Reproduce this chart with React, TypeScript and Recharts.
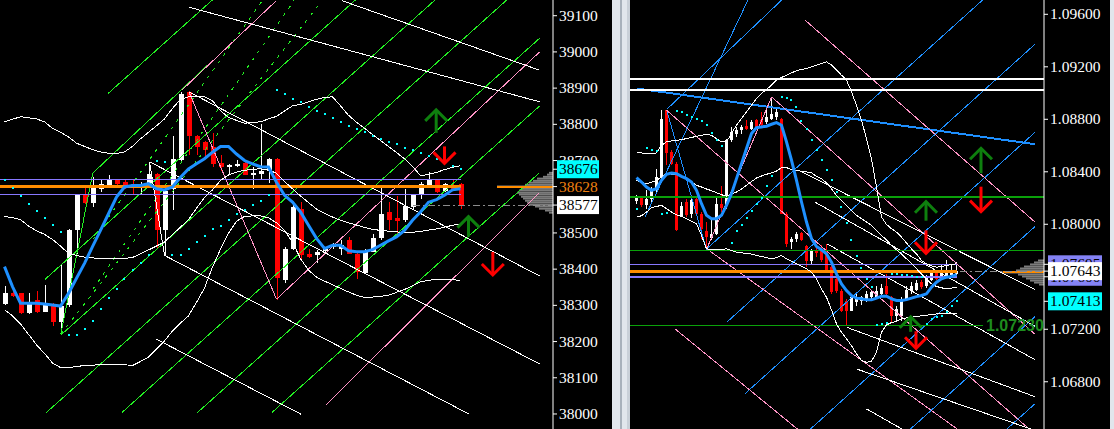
import React from 'react';
import { ComposedChart, XAxis, YAxis, Bar, Line, ReferenceLine, ReferenceArea, ReferenceDot } from 'recharts';

// ================= LEFT PANEL (index, points) =================
const leftOpen = [38304, 38335, 38333, 38278, 38315, 38283, 38301, 38255, 38301, 38507, 38604, 38583, 38622, 38631, 38647, 38640, 38636, 38625, 38636, 38663, 38507, 38622, 38702, 38888, 38769, 38750, 38737, 38694, 38683, 38686, 38693, 38661, 38663, 38671, 38705, 38370, 38457, 38567, 38443, 38439, 38451, 38462, 38457, 38480, 38443, 38388, 38448, 38485, 38558, 38540, 38535, 38572, 38604, 38631, 38645, 38617, 38631, 38634];
const leftHigh = [38353, 38342, 38335, 38333, 38341, 38356, 38306, 38411, 38510, 38606, 38631, 38654, 38645, 38659, 38650, 38650, 38645, 38640, 38695, 38665, 38631, 38769, 38888, 38891, 38771, 38755, 38775, 38714, 38691, 38702, 38700, 38682, 38801, 38707, 38707, 38462, 38576, 38585, 38457, 38453, 38462, 38471, 38480, 38489, 38448, 38457, 38498, 38631, 38585, 38601, 38622, 38608, 38640, 38668, 38647, 38638, 38650, 38638];
const leftLow = [38300, 38322, 38276, 38276, 38278, 38281, 38242, 38219, 38295, 38443, 38581, 38572, 38613, 38629, 38631, 38622, 38608, 38608, 38634, 38457, 38439, 38562, 38700, 38714, 38714, 38709, 38682, 38671, 38663, 38682, 38659, 38622, 38645, 38638, 38315, 38363, 38453, 38425, 38430, 38416, 38443, 38457, 38439, 38441, 38372, 38386, 38446, 38480, 38507, 38494, 38530, 38562, 38595, 38629, 38610, 38613, 38617, 38567];
const leftClose = [38335, 38326, 38278, 38310, 38283, 38306, 38255, 38297, 38507, 38604, 38583, 38627, 38634, 38650, 38636, 38631, 38631, 38629, 38663, 38509, 38617, 38705, 38885, 38769, 38737, 38729, 38691, 38682, 38689, 38691, 38661, 38665, 38671, 38705, 38375, 38457, 38572, 38439, 38434, 38448, 38457, 38466, 38466, 38443, 38393, 38448, 38487, 38553, 38535, 38533, 38574, 38604, 38636, 38645, 38613, 38636, 38622, 38577];
const leftMA = [38407, 38352, 38306, 38306, 38306, 38304, 38301, 38298, 38333, 38375, 38416, 38462, 38507, 38553, 38599, 38627, 38631, 38631, 38636, 38622, 38619, 38627, 38654, 38677, 38691, 38705, 38723, 38739, 38739, 38718, 38700, 38691, 38683, 38682, 38640, 38604, 38585, 38558, 38521, 38485, 38457, 38466, 38466, 38451, 38448, 38448, 38454, 38466, 38478, 38489, 38507, 38535, 38558, 38585, 38592, 38604, 38619, 38622];
const leftBandUp = [38807, 38814, 38821, 38818, 38815, 38807, 38789, 38778, 38765, 38748, 38739, 38730, 38724, 38720, 38719, 38724, 38739, 38760, 38778, 38796, 38815, 38844, 38869, 38876, 38876, 38876, 38865, 38838, 38819, 38811, 38803, 38805, 38807, 38815, 38822, 38837, 38851, 38855, 38862, 38869, 38874, 38876, 38851, 38825, 38806, 38789, 38772, 38755, 38739, 38722, 38705, 38684, 38658, 38662, 38667, 38675, 38681, 38686];
const leftBandMid = [38546, 38542, 38537, 38519, 38506, 38496, 38482, 38464, 38443, 38438, 38433, 38431, 38430, 38430, 38429, 38430, 38432, 38443, 38453, 38464, 38475, 38496, 38516, 38537, 38568, 38598, 38619, 38645, 38660, 38668, 38673, 38676, 38677, 38674, 38665, 38642, 38622, 38602, 38584, 38566, 38554, 38544, 38535, 38528, 38522, 38515, 38510, 38507, 38505, 38503, 38501, 38502, 38504, 38508, 38511, 38516, 38521, 38525];
const leftBandLow = [38288, 38271, 38249, 38220, 38191, 38167, 38141, 38128, 38128, 38131, 38134, 38135, 38136, 38137, 38138, 38136, 38134, 38145, 38157, 38179, 38202, 38229, 38251, 38271, 38308, 38348, 38406, 38455, 38499, 38532, 38546, 38547, 38547, 38542, 38528, 38507, 38475, 38429, 38397, 38378, 38367, 38357, 38347, 38337, 38328, 38322, 38323, 38325, 38328, 38336, 38344, 38354, 38365, 38369, 38372, 38372, 38371, 38369];
const leftSAR = [38645, 38624, 38601, 38580, 38560, 38542, 38523, 38502, 38218, 38218, 38234, 38257, 38290, 38320, 38346, 38372, 38398, 38418, 38438, 38700, 38696, 38438, 38440, 38456, 38476, 38492, 38510, 38520, 38537, 38551, 38564, 38577, 38589, 38606, 38896, 38884, 38870, 38862, 38849, 38838, 38828, 38817, 38806, 38796, 38787, 38780, 38768, 38760, 38752, 38745, 38734, 38728, 38720, 38713, 38704, 38695, 38686, 38676];
const leftTickValues = [38000, 38100, 38200, 38300, 38400, 38500, 38700, 38800, 38900, 39000, 39100];
const leftMarkValues = [38676, 38628, 38577];
const leftPurpleLevels = [38647, 38606];
const leftOrangeLevel = 38628;
const leftLastPrice = 38577;
// trend objects: [bar index 1, price 1, bar index 2, price 2]
const leftGreenRays = [
  [6.21, 38003.5, 67.88, 39224.5],
  [15.65, 38003.5, 67.88, 39037.5],
  [25.1, 38003.5, 67.88, 38850.5],
  [34.4, 38003.5, 67.88, 38666.25],
  [8.05, 38218, 67.88, 39401.9],
  [6.08, 38372, 67.88, 39601.25],
  [13.96, 38885.4, 29.13, 39186],
  [12.04, 38665.4, 27.04, 38977],
  [8.05, 38220.75, 12.04, 38665.4],
];
const leftGreenDashed = [
  [8.05, 38220.75, 40.71, 39142],
  [12.04, 38344.5, 37.2, 39142],
  [12.04, 38482, 33.25, 39142],
];
const leftPinkRays = [
  [23.18, 38894.5, 35.0, 39142],
  [24.05, 38889.8, 35.0, 38317],
  [35.0, 38317, 67.88, 38999.8],
  [41.13, 38023.6, 67.88, 38611.25],
];
const leftWhiteRays = [
  [24.05, 39123.6, 67.88, 38862.3],
  [43.13, 39142, 67.88, 38949.5],
  [24.05, 38889.8, 67.88, 38381.1],
  [19.13, 38696.5, 67.88, 38138.25],
  [21.0, 38438, 59.13, 37999],
  [19.96, 38207, 38.09, 37999],
  [19.13, 38696.5, 21.0, 38438],
];
const leftArrowX = [54.96, 56.0, 59.0, 62.04];
const leftArrowTip = [38840, 38692, 38545, 38384];
const leftArrowDir = ['up', 'down', 'up', 'down'];
const leftProfilePrice = [38666, 38661, 38655, 38650, 38644, 38639, 38633, 38628, 38622, 38617, 38611, 38606, 38600, 38595, 38589, 38584, 38578, 38573, 38567, 38562, 38556];
const leftProfileVol = [0.5, 0.75, 1.25, 2, 2.5, 3, 3.5, 7, 4, 4.25, 4.5, 4.25, 4, 3.75, 3.5, 3.25, 3, 2.25, 1.75, 1, 0.5];

// ================= RIGHT PANEL (EURUSD) =================
const rightOpen = [1.08177, 1.08203, 1.08144, 1.08195, 1.08259, 1.08355, 1.08869, 1.08551, 1.08457, 1.08060, 1.08169, 1.08080, 1.08195, 1.08080, 1.07946, 1.07897, 1.07928, 1.08157, 1.08144, 1.08640, 1.08691, 1.08717, 1.08747, 1.08729, 1.08793, 1.08793, 1.08780, 1.08806, 1.08818, 1.08806, 1.08080, 1.07864, 1.07884, 1.07933, 1.07832, 1.07719, 1.07795, 1.07813, 1.07806, 1.07673, 1.07584, 1.07495, 1.07419, 1.07342, 1.07406, 1.07414, 1.07419, 1.07444, 1.07449, 1.07470, 1.07526, 1.07444, 1.07304, 1.07304, 1.07432, 1.07495, 1.07500, 1.07559, 1.07526, 1.07577, 1.07635, 1.07597, 1.07602, 1.07610, 1.07622];
const rightHigh = [1.08220, 1.08213, 1.08259, 1.08284, 1.08424, 1.08869, 1.08874, 1.08564, 1.08475, 1.08169, 1.08195, 1.08208, 1.08208, 1.08093, 1.08017, 1.08030, 1.08203, 1.08289, 1.08653, 1.08742, 1.08742, 1.08755, 1.08798, 1.08793, 1.08806, 1.08857, 1.08895, 1.08971, 1.08895, 1.08811, 1.08093, 1.07902, 1.07940, 1.07940, 1.07845, 1.07813, 1.07839, 1.07839, 1.07851, 1.07699, 1.07610, 1.07508, 1.07432, 1.07470, 1.07470, 1.07457, 1.07495, 1.07500, 1.07526, 1.07546, 1.07622, 1.07457, 1.07381, 1.07444, 1.07533, 1.07559, 1.07572, 1.07572, 1.07610, 1.07643, 1.07648, 1.07686, 1.07729, 1.07686, 1.07711];
const rightLow = [1.08157, 1.08131, 1.08119, 1.08169, 1.08246, 1.08348, 1.08449, 1.08449, 1.07948, 1.08055, 1.08055, 1.08050, 1.08075, 1.07890, 1.07813, 1.07877, 1.07915, 1.08093, 1.08119, 1.08628, 1.08666, 1.08691, 1.08722, 1.08722, 1.08729, 1.08742, 1.08767, 1.08793, 1.08793, 1.08075, 1.07826, 1.07813, 1.07864, 1.07872, 1.07673, 1.07686, 1.07750, 1.07711, 1.07643, 1.07470, 1.07475, 1.07330, 1.07228, 1.07337, 1.07381, 1.07388, 1.07406, 1.07432, 1.07432, 1.07457, 1.07457, 1.07253, 1.07266, 1.07266, 1.07424, 1.07470, 1.07490, 1.07508, 1.07516, 1.07566, 1.07572, 1.07584, 1.07592, 1.07597, 1.07617];
const rightClose = [1.08208, 1.08144, 1.08195, 1.08259, 1.08360, 1.08806, 1.08544, 1.08457, 1.07953, 1.08136, 1.08068, 1.08182, 1.08080, 1.07966, 1.07902, 1.07928, 1.08157, 1.08126, 1.08640, 1.08701, 1.08722, 1.08742, 1.08729, 1.08780, 1.08742, 1.08755, 1.08818, 1.08844, 1.08857, 1.08080, 1.07851, 1.07890, 1.07928, 1.07882, 1.07718, 1.07801, 1.07780, 1.07729, 1.07648, 1.07482, 1.07495, 1.07342, 1.07342, 1.07444, 1.07444, 1.07444, 1.07470, 1.07482, 1.07495, 1.07516, 1.07470, 1.07304, 1.07355, 1.07432, 1.07500, 1.07533, 1.07551, 1.07521, 1.07592, 1.07627, 1.07584, 1.07643, 1.07635, 1.07643, 1.07643];
const rightMA = [1.08355, 1.08322, 1.08284, 1.08259, 1.08271, 1.08335, 1.08381, 1.08391, 1.08386, 1.08365, 1.08348, 1.08322, 1.08259, 1.08157, 1.08068, 1.08042, 1.08042, 1.08068, 1.08144, 1.08233, 1.08348, 1.08462, 1.08577, 1.08691, 1.08737, 1.08742, 1.08747, 1.08762, 1.08775, 1.08755, 1.08628, 1.08488, 1.08335, 1.08170, 1.08017, 1.07890, 1.07831, 1.07806, 1.07775, 1.07711, 1.07622, 1.07546, 1.07495, 1.07457, 1.07437, 1.07432, 1.07424, 1.07424, 1.07437, 1.07452, 1.07452, 1.07432, 1.07419, 1.07419, 1.07426, 1.07437, 1.07449, 1.07457, 1.07470, 1.07521, 1.07559, 1.07584, 1.07597, 1.07602, 1.07617];
const rightBandUp = [1.08551, 1.08544, 1.08538, 1.08538, 1.08544, 1.08602, 1.08628, 1.08635, 1.08640, 1.08645, 1.08653, 1.08661, 1.08671, 1.08678, 1.08686, 1.08678, 1.08653, 1.08628, 1.08628, 1.08691, 1.08755, 1.08806, 1.08857, 1.08907, 1.08958, 1.08997, 1.09027, 1.09060, 1.09098, 1.09119, 1.09136, 1.09154, 1.09170, 1.09180, 1.09187, 1.09200, 1.09213, 1.09226, 1.09238, 1.09213, 1.09175, 1.09136, 1.09098, 1.09009, 1.08907, 1.08793, 1.08653, 1.08500, 1.08284, 1.08055, 1.07999, 1.07966, 1.07940, 1.07902, 1.07857, 1.07813, 1.07775, 1.07724, 1.07699, 1.07683, 1.07673, 1.07678, 1.07686, 1.07694, 1.07699];
const rightBandMid = [1.08335, 1.08322, 1.08309, 1.08320, 1.08335, 1.08360, 1.08386, 1.08383, 1.08381, 1.08365, 1.08348, 1.08322, 1.08297, 1.08284, 1.08269, 1.08256, 1.08241, 1.08225, 1.08215, 1.08228, 1.08246, 1.08269, 1.08297, 1.08325, 1.08353, 1.08368, 1.08381, 1.08391, 1.08406, 1.08432, 1.08432, 1.08416, 1.08409, 1.08404, 1.08399, 1.08393, 1.08365, 1.08348, 1.08315, 1.08271, 1.08220, 1.08182, 1.08144, 1.08106, 1.08068, 1.08042, 1.08017, 1.07991, 1.07953, 1.07915, 1.07882, 1.07839, 1.07806, 1.07775, 1.07737, 1.07699, 1.07661, 1.07622, 1.07584, 1.07546, 1.07526, 1.07516, 1.07508, 1.07513, 1.07521];
const rightBandLow = [1.08055, 1.08065, 1.08093, 1.08126, 1.08136, 1.08144, 1.08119, 1.08093, 1.08073, 1.08060, 1.08042, 1.08024, 1.08004, 1.07915, 1.07813, 1.07808, 1.07806, 1.07808, 1.07813, 1.07801, 1.07788, 1.07783, 1.07778, 1.07773, 1.07762, 1.07755, 1.07745, 1.07737, 1.07745, 1.07762, 1.07737, 1.07719, 1.07699, 1.07681, 1.07661, 1.07635, 1.07584, 1.07508, 1.07444, 1.07348, 1.07241, 1.07177, 1.07126, 1.07075, 1.07012, 1.06961, 1.06948, 1.06956, 1.07024, 1.07177, 1.07233, 1.07251, 1.07261, 1.07279, 1.07286, 1.07292, 1.07297, 1.07302, 1.07307, 1.07312, 1.07317, 1.07317, 1.07317, 1.07317, 1.07317];
const rightSAR = [1.08119, null, 1.08582, 1.08569, 1.08556, 1.08080, 1.08088, null, 1.08864, 1.08854, 1.08831, 1.08818, 1.08806, 1.08785, 1.08760, 1.08696, 1.08645, 1.08594, null, 1.07857, 1.07951, 1.07996, 1.08050, 1.08101, 1.08152, 1.08203, 1.08292, 1.08365, null, 1.08971, 1.08963, 1.08946, 1.08895, 1.08788, 1.08729, 1.08646, 1.08569, 1.08487, 1.08411, 1.08340, 1.08246, 1.08131, 1.08009, 1.07877, 1.07755, 1.07668, 1.07581, 1.07520, 1.07233, 1.07241, 1.07248, 1.07623, 1.07623, 1.07617, 1.07612, 1.07606, 1.07600, 1.07595, 1.07241, 1.07279, 1.07292, 1.07304, 1.07335, 1.07380, 1.07413];
const rightTickValues = [1.068, 1.072, 1.08, 1.084, 1.088, 1.092, 1.096];
const rightMarkValues = [1.07695, 1.076, 1.07643, 1.07413];
const rightWhiteLevels = [1.09106, 1.09022];
const rightGreenLevels = [1.08207, 1.078];
const rightLowLevel = 1.0723;
const rightPurpleLevels = [1.07695, 1.076];
const rightOrangeLevel = 1.0764;
const rightLastPrice = 1.07643;
const rightBlueRays = [
  [7.04, 1.08875, 30.04, 1.09709],
  [2.7, 1.08055, 23.3, 1.09709],
  [7.04, 1.08869, 15.04, 1.07801],
  [15.04, 1.07813, 70.22, 1.09709],
  [19.04, 1.07253, 80.7, 1.09372],
  [22.7, 1.06709, 80.7, 1.08701],
  [35.62, 1.06434, 80.7, 1.07983],
  [55.62, 1.06434, 80.7, 1.07296],
  [74.9, 1.06434, 80.7, 1.06632],
];
const rightBlueTrend = [[1.04, 1.09035, 80.7, 1.0861]];
const rightPinkRays = [
  [34.7, 1.09556, 80.7, 1.08017],
  [7.04, 1.08869, 79.7, 1.06434],
  [28.04, 1.08971, 80.7, 1.07162],
  [15.04, 1.07813, 65.36, 1.06434],
  [8.7, 1.07203, 33.36, 1.06434],
  [15.04, 1.07813, 28.04, 1.08971],
];
const rightWhiteRays = [
  [33.7, 1.08406, 80.7, 1.07503],
  [36.7, 1.08169, 80.7, 1.07223],
  [39.04, 1.07852, 80.7, 1.06968],
  [43.04, 1.07215, 80.7, 1.06686],
  [45.04, 1.06897, 80.36, 1.06434],
  [47.04, 1.06592, 54.36, 1.06434],
];
const rightArrowX = [69.9, 69.9, 58.9, 58.9, 55.84, 56.9];
const rightArrowTip = [1.08579, 1.08096, 1.08172, 1.07779, 1.07295, 1.07055];
const rightArrowDir = ['up', 'down', 'up', 'down', 'up', 'down'];
const rightProfilePrice = [1.07724, 1.07709, 1.07694, 1.07678, 1.07663, 1.07648, 1.07633, 1.07617, 1.07602, 1.07587, 1.07571, 1.07556, 1.07541];
const rightProfileVol = [1.2, 2, 2.8, 4, 4.8, 5.6, 8.4, 5.2, 4.4, 3.6, 2.8, 2, 1];
const rightLowLabel = '1.07230';

// ================= styling / layout =================
const SERIF = "'Liberation Serif','Times New Roman',serif";
const SANS = "'Liberation Sans',Arial,sans-serif";
const COL = {
  bull: '#ffffff', bear: '#ff0000', ma: '#1e90ff', band: '#ffffff', sar: '#00ffff',
  green: '#22f022', pink: '#ff94c6', white: '#ffffff', blue: '#1e8fff',
  purple: '#8878ff', orange: '#ff8c00', hgreen: '#0aa00a', gray: '#8c8c8c', profile: '#7c7c7c',
  up: '#0e7f0e', down: '#ff0000', lowLabel: '#1e8c1e',
};
const L = { width: 612, yW: 59, slots: 69, pad: 1, xDom: [0.4375, 69.5625], yDom: [37958.5, 39143.4], bar: 5 };
const R = { width: 480, yW: 66, slots: 82, pad: 4, xDom: [-0.3, 82.5], yDom: [1.0644, 1.09709], bar: 3 };

function buildRows(slots: number, o: number[], h: number[], l: number[], c: number[], ma: number[], up: number[], mid: number[], lo: number[], sar: (number | null)[]) {
  const out: any[] = [];
  for (let k = 1; k <= slots; k++) {
    const j = k - 1;
    const has = j < o.length;
    out.push({
      i: k,
      hl: has ? [l[j], h[j]] : null,
      o: has ? o[j] : null, h: has ? h[j] : null, l: has ? l[j] : null, c: has ? c[j] : null,
      ma: has ? ma[j] : null, up: has ? up[j] : null, mid: has ? mid[j] : null, lo: has ? lo[j] : null,
      sar: has ? sar[j] : null,
    });
  }
  return out;
}

const candleShape = (p: any) => {
  const { x, y, width, height, payload } = p;
  if (!payload || payload.h == null || !isFinite(y) || !isFinite(height)) return <g />;
  const top = Math.min(y, y + height);
  const H = Math.abs(height);
  const { o, h, l, c } = payload;
  const ppu = H / ((h - l) || 1);
  const yO = top + (h - o) * ppu;
  const yC = top + (h - c) * ppu;
  const bt = Math.round(Math.min(yO, yC));
  const bb = Math.round(Math.max(yO, yC));
  const col = c >= o ? COL.bull : COL.bear;
  const cx = x + width / 2;
  return (
    <g>
      <line x1={cx} x2={cx} y1={Math.round(top)} y2={Math.round(top + H)} stroke={col} strokeWidth={1} />
      <rect x={x} y={bt} width={width} height={Math.max(1, bb - bt)} fill={col} />
    </g>
  );
};

const sarDot = (p: any) => {
  const { cx, cy, payload, index } = p;
  if (!payload || payload.sar == null || cy == null || !isFinite(cy)) return <g key={'s' + index} />;
  return <rect key={'s' + index} x={Math.round(cx) - 1} y={Math.round(cy) - 1} width={2} height={2} fill={COL.sar} />;
};

const segs = (list: number[][], color: string, w: number, key: string, dash?: string) =>
  list.map((s, i) => (
    <ReferenceLine key={key + i} xAxisId="num" segment={[{ x: s[0], y: s[1] }, { x: s[2], y: s[3] }]}
      stroke={color} strokeWidth={w} strokeDasharray={dash} ifOverflow="hidden" shapeRendering="crispEdges" />
  ));

const hline = (y: number, x1: number, x2: number, color: string, w: number, key: string, dash?: string) => (
  <ReferenceLine key={key} xAxisId="num" segment={[{ x: x1, y }, { x: x2, y }]} stroke={color} strokeWidth={w} strokeDasharray={dash} ifOverflow="hidden" shapeRendering="crispEdges" />
);

const Arrow = ({ cx, cy, dir, len, w, color }: any) => {
  const s = dir === 'up' ? 1 : -1;
  const hw = w / 2;
  return (
    <g stroke={color} strokeWidth={3} fill="none">
      <path d={`M${cx},${cy + s * len} L${cx},${cy + s * 1.5}`} />
      <path d={`M${cx - hw},${cy + s * hw} L${cx},${cy} L${cx + hw},${cy + s * hw}`} />
    </g>
  );
};

const arrows = (xs: number[], tips: number[], dirs: string[], lens: number[], w: number, key: string) =>
  xs.map((x, i) => (
    <ReferenceDot key={key + i} xAxisId="num" x={x} y={tips[i]} r={0} ifOverflow="visible"
      shape={(p: any) => <Arrow cx={p.cx} cy={p.cy} dir={dirs[i]} len={lens[i]} w={w} color={dirs[i] === 'up' ? COL.up : COL.down} />} />
  ));

const profile = (prices: number[], vols: number[], half: number, xMax: number, key: string) =>
  prices.map((p, i) => (
    <ReferenceArea key={key + i} xAxisId="num" x1={xMax - vols[i]} x2={xMax} y1={p - half} y2={p + half}
      fill={COL.profile} fillOpacity={1} stroke="none" ifOverflow="hidden" />
  ));

const mkTick = (marks: number[], styles: { bg: string | null; fg: string }[], digits: number, boxW: number) => (props: any) => {
  const { x, y, payload } = props;
  const v = Number(payload.value);
  const label = v.toFixed(digits);
  const mi = marks.indexOf(v);
  if (mi >= 0) {
    const st = styles[mi];
    return (
      <g>
        {st.bg ? <rect x={x - 2} y={y - 9} width={boxW} height={18} fill={st.bg} /> : null}
        <text x={x} y={y + 5} fill={st.fg} fontFamily={SERIF} fontSize={15.5}>{label}</text>
      </g>
    );
  }
  return <text x={x} y={y + 5} fill="#ffffff" fontFamily={SERIF} fontSize={15.5}>{label}</text>;
};

const leftTick = mkTick(leftMarkValues, [
  { bg: '#00ffff', fg: '#000000' }, { bg: null, fg: '#f08010' }, { bg: '#ffffff', fg: '#000000' },
], 0, 42);
const rightTick = mkTick(rightMarkValues, [
  { bg: '#8482f5', fg: '#000000' }, { bg: '#8482f5', fg: '#000000' }, { bg: '#ffffff', fg: '#000000' }, { bg: '#00ffff', fg: '#000000' },
], 5, 54);

export default function App() {
  const lrows = buildRows(L.slots, leftOpen, leftHigh, leftLow, leftClose, leftMA, leftBandUp, leftBandMid, leftBandLow, leftSAR);
  const rrows = buildRows(R.slots, rightOpen, rightHigh, rightLow, rightClose, rightMA, rightBandUp, rightBandMid, rightBandLow, rightSAR);
  const lLast = leftOpen.length;
  const rLast = rightOpen.length;
  const lineProps = { xAxisId: 'num', dot: false, activeDot: false, isAnimationActive: false, connectNulls: false } as any;
  const bandProps = { ...lineProps, stroke: COL.band, strokeWidth: 1, shapeRendering: 'crispEdges' } as any;

  return (
    <div style={{ position: 'absolute', left: 0, top: 0, width: 1114, height: 429, background: '#000', overflow: 'hidden' }}>
      <div style={{ position: 'absolute', left: 0, top: 0 }}>
        <ComposedChart width={L.width} height={429} data={lrows} margin={{ top: 0, right: 0, bottom: 0, left: 0 }}>
          <XAxis xAxisId="cat" dataKey="i" type="category" hide padding={{ left: L.pad, right: 0 }} />
          <XAxis xAxisId="num" dataKey="i" type="number" domain={L.xDom} allowDataOverflow hide />
          <YAxis orientation="right" type="number" domain={L.yDom} allowDataOverflow ticks={[...leftTickValues, ...leftMarkValues]}
            interval={0} width={L.yW} tickSize={4} tickMargin={2} axisLine={{ stroke: '#ffffff' }} tickLine={{ stroke: '#ffffff' }} tick={leftTick} />
          {profile(leftProfilePrice, leftProfileVol, 2.76, L.xDom[1], 'lp')}
          {segs(leftGreenRays, COL.green, 1, 'lg')}
          {segs(leftGreenDashed, COL.green, 1, 'lgd', '3 6')}
          {segs(leftPinkRays, COL.pink, 1, 'lpk')}
          {segs(leftWhiteRays, COL.white, 1, 'lw')}
          {leftPurpleLevels.map((v, i) => hline(v, L.xDom[0], lLast, COL.purple, 1.5, 'lpu' + i))}
          {hline(leftOrangeLevel, L.xDom[0], lLast, COL.orange, 3, 'lor1')}
          {hline(leftOrangeLevel, 62.56, L.xDom[1], COL.orange, 2, 'lor2')}
          {hline(leftLastPrice, 52, L.xDom[1], COL.gray, 1, 'lda', '7 3 2 3')}
          <Line {...bandProps} dataKey="up" />
          <Line {...bandProps} dataKey="mid" />
          <Line {...bandProps} dataKey="lo" />
          <Bar xAxisId="cat" dataKey="hl" barSize={L.bar} shape={candleShape} isAnimationActive={false} />
          <Line {...lineProps} dataKey="ma" stroke={COL.ma} strokeWidth={3} />
          <Line {...lineProps} dataKey="sar" stroke="none" dot={sarDot} />
          {arrows(leftArrowX, leftArrowTip, leftArrowDir, [23, 17, 20, 23], 22, 'la')}
        </ComposedChart>
      </div>

      <div style={{ position: 'absolute', left: 612, top: 0, width: 18, height: 429, background: '#e1e6ec' }} />
      <div style={{ position: 'absolute', left: 620, top: 0, width: 2, height: 429, background: '#a8b1bb' }} />
      <div style={{ position: 'absolute', left: 627, top: 0, width: 3, height: 429, background: '#c9d0d8' }} />

      <div style={{ position: 'absolute', left: 630, top: 0 }}>
        <ComposedChart width={R.width} height={429} data={rrows} margin={{ top: 0, right: 0, bottom: 0, left: 0 }}>
          <XAxis xAxisId="cat" dataKey="i" type="category" hide padding={{ left: R.pad, right: 0 }} />
          <XAxis xAxisId="num" dataKey="i" type="number" domain={R.xDom} allowDataOverflow hide />
          <YAxis orientation="right" type="number" domain={R.yDom} allowDataOverflow ticks={[...rightTickValues, ...rightMarkValues]}
            interval={0} width={R.yW} tickSize={4} tickMargin={2} axisLine={{ stroke: '#ffffff' }} tickLine={{ stroke: '#ffffff' }} tick={rightTick} />
          {profile(rightProfilePrice, rightProfileVol, 0.0000762, R.xDom[1], 'rp')}
          {segs(rightBlueRays, COL.blue, 1, 'rb')}
          {segs(rightBlueTrend, COL.blue, 2, 'rbt')}
          {segs(rightPinkRays, COL.pink, 1, 'rpk')}
          {segs(rightWhiteRays, COL.white, 1, 'rw')}
          {hline(rightWhiteLevels[0], R.xDom[0], R.xDom[1], COL.white, 2.5, 'rwh0')}
          {hline(rightWhiteLevels[1], R.xDom[0], R.xDom[1], COL.white, 1.5, 'rwh1')}
          {rightGreenLevels.map((v, i) => hline(v, R.xDom[0], R.xDom[1], COL.hgreen, 1.5, 'rg' + i))}
          {hline(rightLowLevel, R.xDom[0], 70.3, COL.hgreen, 1.5, 'rgl')}
          {rightPurpleLevels.map((v, i) => hline(v, R.xDom[0], rLast, COL.purple, 1.5, 'rpu' + i))}
          {hline(rightOrangeLevel, R.xDom[0], rLast, COL.orange, 3, 'ror1')}
          {hline(rightOrangeLevel, 74.3, R.xDom[1], COL.orange, 2, 'ror2')}
          {hline(rightLastPrice, 65.6, R.xDom[1], COL.gray, 1, 'rda', '7 3 2 3')}
          <Line {...bandProps} dataKey="up" />
          <Line {...bandProps} dataKey="mid" />
          <Line {...bandProps} dataKey="lo" />
          <Bar xAxisId="cat" dataKey="hl" barSize={R.bar} shape={candleShape} isAnimationActive={false} />
          <Line {...lineProps} dataKey="ma" stroke={COL.ma} strokeWidth={3} />
          <Line {...lineProps} dataKey="sar" stroke="none" dot={sarDot} />
          {arrows(rightArrowX, rightArrowTip, rightArrowDir, [25, 25, 19, 23, 15, 17], 22, 'ra')}
          <ReferenceDot xAxisId="num" x={70.9} y={rightLowLevel} r={0} ifOverflow="visible"
            shape={(p: any) => <text x={p.cx} y={p.cy + 6} fill={COL.lowLabel} fontFamily={SANS} fontWeight="bold" fontSize={16}>{rightLowLabel}</text>} />
        </ComposedChart>
      </div>

      <div style={{ position: 'absolute', left: 1110, top: 0, width: 4, height: 429, background: '#e1e6ec' }} />
    </div>
  );
}
